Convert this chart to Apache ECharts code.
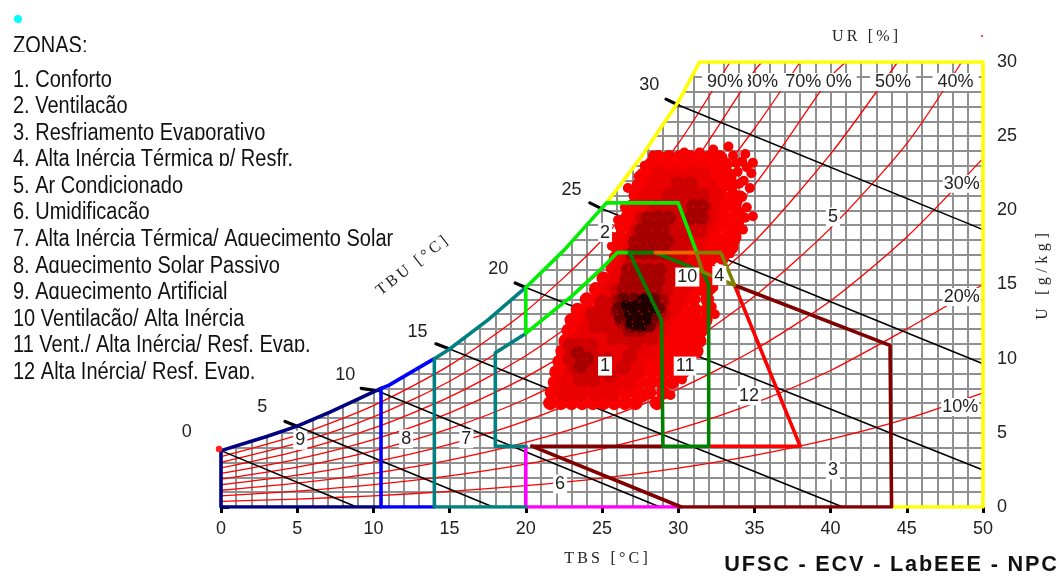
<!DOCTYPE html>
<html><head><meta charset="utf-8">
<style>html,body{margin:0;padding:0;background:#fff}#c{width:1060px;height:576px}</style>
<script src="https://cdn.jsdelivr.net/npm/echarts@6/dist/echarts.min.js"></script>
</head><body><div id="c"></div>
<script>
// ---------- text ----------
const zoneTitle = "ZONAS:";
const zoneNames = ["1. Conforto","2. Ventilação","3. Resfriamento Evaporativo","4. Alta Inércia Térmica p/ Resfr.","5. Ar Condicionado","6. Umidificação","7. Alta Inércia Térmica/ Aquecimento Solar","8. Aquecimento Solar Passivo","9. Aquecimento Artificial","10 Ventilação/ Alta Inércia","11 Vent./ Alta Inércia/ Resf. Evap.","12 Alta Inércia/ Resf. Evap."];
const footer = "UFSC - ECV - LabEEE - NPC";
// ---------- saturation + relative humidity curves [TBS, U] ----------
const saturation = [[0,3.8],[3,4.75],[5,5.45],[7.15,6.4],[10.5,8],[11,8.2],[14,10],[15,10.65],[17.5,12.6],[20,14.8],[22.5,17.3],[25.3,20.5],[27.5,23.5],[30,27.3],[31.4,30]];
const maskEdge = [[31.4,30.4],[-0.4,30.4],[-0.4,3.8]];
const rh90 = [[0,3.39],[5,4.84],[10,6.84],[15,9.55],[20,13.2],[25,18],[30,24.5],[33.4,30]];
const rh80 = [[0,3.01],[5,4.3],[10,6.07],[15,8.48],[20,11.7],[25,16],[30,21.7],[35,29.4],[35.5,30]];
const rh70 = [[0,2.63],[5,3.77],[10,5.31],[15,7.42],[20,10.2],[25,13.9],[30,18.9],[35,25.5],[38,30]];
const rh60 = [[0,2.26],[5,3.23],[10,4.55],[15,6.35],[20,8.76],[25,11.9],[30,16.1],[35,21.7],[40,29],[41,30]];
const rh50 = [[0,1.88],[5,2.69],[10,3.79],[15,5.28],[20,7.28],[25,9.9],[30,13.4],[35,17.9],[40,23.8],[44.4,30]];
const rh40 = [[0,1.5],[5,2.15],[10,3.03],[15,4.22],[20,5.81],[25,7.9],[30,10.6],[35,14.2],[40,18.8],[45,24.5],[48.6,30]];
const rh30 = [[0,1.13],[5,1.61],[10,2.27],[15,3.16],[20,4.35],[25,5.9],[30,7.95],[35,10.6],[40,13.9],[45,18.2],[50,23.5]];
const rh20 = [[0,.75],[5,1.07],[10,1.51],[15,2.1],[20,2.89],[25,3.92],[30,5.26],[35,7],[40,9.2],[45,12],[50,15]];
const rh10 = [[0,.375],[5,.536],[10,.755],[15,1.05],[20,1.44],[25,1.95],[30,2.62],[35,3.48],[40,4.57],[45,5.95],[50,7.7]];
// ---------- wet-bulb lines ----------
const tbu0  = [[0,3.8],[8.9,0]];
const tbu5  = [[5,5.45],[17.85,0]];
const tbu10 = [[10.2,7.85],[28.8,0]];
const tbu15 = [[15,10.65],[40.8,0]];
const tbu20 = [[20,14.8],[50,2.5]];
const tbu25 = [[25,20.1],[50,9.65]];
const tbu30 = [[30,27.1],[50,18.7]];
const tbuTicks = [[[-.7,4.15],[0,3.8]],[[4.2,5.77],[5,5.45]],[[9.2,8],[10.2,7.85]],[[14.1,11],[15,10.65]],[[19.3,15.1],[20,14.8]],[[24.2,20.5],[25,20.1]],[[29.2,27.5],[30,27.1]]];
// ---------- zone outlines ----------
const zoneNavy = [[10.5,0],[0,0],[0,3.8],[3,4.75],[5,5.45],[7.15,6.4],[10.5,8]];
const zoneBlue = [[14,0],[10.5,0],[10.5,8],[11,8.2],[14,10]];
const zoneTeal = [[20,0],[14,0],[14,10],[15,10.65],[17.5,12.6],[20,14.8]];
const zoneTeal2 = [[20,11.7],[18,10.4],[18,4.1],[20,4.1]];
const zoneMagenta = [[30.2,0],[20,0],[20,4.1]];
const zoneYellow = [[44,0],[50,0],[50,30],[31.4,30],[30,27.3],[27.5,23.5],[25.3,20.5]];
const zoneLime = [[26.8,17.15],[26,17.15],[25.2,16.3],[23,14.2],[21.3,12.8],[20,11.7],[20,14.8],[22.5,17.3],[25.3,20.5],[30,20.5],[31.2,17.2]];
const zoneOrange = [[28.5,17.15],[31.2,17.15]];
const zoneOlive = [[31.2,17.15],[32.8,17.15],[33.7,14.95],[31.6,15.85],[31.2,17.15]];
const zoneGreen = [[26.8,17.15],[28.9,12.6],[29,4.1],[32,4.1],[32,15],[31.6,15.85],[28.5,17.15],[26.8,17.15]];
const zoneMaroon = [[33.7,14.95],[43.9,10.9],[44,0],[30.2,0],[20.4,4.1]];
const zoneMaroon2 = [[20.4,4.1],[29,4.1]];
const zoneRed = [[32,4.1],[38,4.1],[33.7,14.95]];
// ---------- labels on the chart [text, TBS, U] ----------
const zoneLabels = [["1",25.2,9.5],["2",25.2,18.5],["3",40.15,2.5],["4",32.7,15.6],["5",40.15,19.55],["6",22.25,1.55],["7",16.1,4.6],["8",12.15,4.6],["9",5.2,4.5],["10",30.6,15.5],["11",30.45,9.5],["12",34.65,7.5]];
const rhSideLabels = [["10%",48.5,6.75],["20%",48.6,14.15],["30%",48.6,21.8]];
const rhTopLabels = [["40%",48.2,28.65],["50%",44.1,28.65],["60%",40.2,28.65],["70%",38.2,28.65],["80%",35.37,28.65],["90%",33.07,28.65]];
const tbuLabels = [["0",-2.25,5.05],["5",2.7,6.75],["10",8.15,8.9],["15",12.9,11.8],["20",18.2,16.05],["25",23,21.4],["30",28.1,28.45]];
// ---------- climate records, [U, [TBS...]] ----------
const cloudBase = [
[7,[21.6,22.3,23,23.7,24.4,25.1,25.8,26.5,27.2,28.6]],
[7.7,[21.7,22.4,23.1,23.8,24.5,25.2,25.9,26.6,27.3,28.1,29]],
[8.4,[21.9,22.6,23.3,24,24.7,25.4,26.1,26.8,27.5,28.2,28.9,29.6]],
[9.1,[22,22.7,23.4,24.1,24.8,25.5,26.2,26.9,27.6,28.3,29,29.7,30.3]],
[9.8,[22.2,22.9,23.6,24.3,25,25.7,26.4,27.1,27.8,28.5,29.2,29.9,30.6]],
[10.5,[22.4,23.1,23.8,24.5,25.2,25.9,26.6,27.3,28,28.7,29.4,30.1,30.7,31.2]],
[11.2,[22.6,23.3,24,24.7,25.4,26.1,26.8,27.5,28.2,28.9,29.6,30.3,31,31.4]],
[11.9,[22.8,23.5,24.2,24.9,25.6,26.3,27,27.7,28.4,29.1,29.8,30.5,31.2,31.5]],
[12.6,[23,23.7,24.4,25.1,25.8,26.5,27.2,27.9,28.6,29.3,30,30.7,31.3,31.8]],
[13.3,[23.4,24.1,24.8,25.5,26.2,26.9,27.6,28.3,29,29.7,30.4,31.1,31.9]],
[14,[24,24.7,25.4,26.1,26.8,27.5,28.2,28.9,29.6,30.3,31,31.9]],
[14.7,[24.6,25.3,26,26.7,27.4,28.1,28.8,29.5,30.2,30.9,31.5,32]],
[15.4,[25.1,25.8,26.5,27.2,27.9,28.6,29.3,30,30.7,31.4,31.9]],
[16.1,[25.7,26.4,27.1,27.8,28.5,29.2,29.9,30.6,31.3,32]],
[16.8,[25.9,26.6,27.3,28,28.7,29.4,30.1,30.8,31.5,32.2,32.9]],
[17.5,[26,26.7,27.4,28.1,28.8,29.5,30.2,30.9,31.6,32.3,33,33.5]],
[18.2,[26.2,26.9,27.6,28.3,29,29.7,30.4,31.1,31.8,32.5,33.2,33.7]],
[18.9,[26.3,27,27.7,28.4,29.1,29.8,30.5,31.2,31.9,32.6,33.3,33.8]],
[19.6,[26.7,27.4,28.1,28.8,29.5,30.2,30.9,31.6,32.3,33,33.8]],
[20.3,[27,27.7,28.4,29.1,29.8,30.5,31.2,31.9,32.6,33.2,33.7]],
[21,[27.2,27.9,28.6,29.3,30,30.7,31.4,32.1,32.8,33.6]],
[21.7,[27.4,28.1,28.8,29.5,30.2,30.9,31.6,32.3,33,33.5]],
[22.4,[27.7,28.4,29.1,29.8,30.5,31.2,31.9,32.6,33.3]],
[23.1,[28.2,28.9,29.6,30.3,31,31.7,32.4,33.1]],
[23.6,[28.7,29.4,30.1,30.8,31.5,32.1,32.7]]];
const cloudFringe = [[28.35,23.7],[28.7,23.6],[29.4,23.6],[30.4,23.9],[31.4,23.9],[32.3,24.1],[33.3,24.3],[34.4,23.8],[32.9,23.6],[34.2,23.3],[34.9,23.2],[34.5,22.9],[34.8,22.5],[33.9,22.6],[33.5,22.2],[34.7,21.5],[34.5,20.2],[34.9,19.6],[34.4,19.5],[34.25,18.7],[33.9,18.9],[33.4,17.1],[26.7,21.5],[26.5,20.2],[26.05,19.35],[25.7,18.2],[25.65,17.6],[27.4,22.3],[27.8,23],[32.3,14.8],[32.2,13.5],[31.4,11.1],[30.25,8.6],[29.5,7.55],[27.7,7.4],[33.8,23.2],[33.6,23.7],[34,21.8],[34.3,22],[34.1,21],[33.9,20.6],[34.2,20.9],[33.9,20],[34.1,19.8],[34,19.2],[33.7,17.9],[33.4,17.6],[33.6,18.4],[30.9,10.2],[31.6,12.2],[32.4,13],[30.7,9.2]];
const cloudShade1 = [
[7.7,[22.6,23.6,24.6,25.6]],[8.4,[22.7,23.7,24.7,25.7,26.7]],[9.1,[23,24,25,26,27.2]],[9.8,[23.2,24.2,25.2,26.2,27.2]],
[10.5,[23.2,24.2,25.2,26.2,27.2,28.2]],[11.2,[23.5,24.5,25.5,26.5,27.5,28.5]],[11.9,[23.9,24.9,25.9,26.9,27.9,28.9]],
[12.6,[24.2,25.2,26.2,27.2,28.2,29.2]],[13.3,[24.9,25.9,26.9,27.9,28.9,29.7]],[14,[25.2,26.2,27.2,28.2,29.2,30]],
[14.7,[25.6,26.6,27.6,28.6,29.6,30.4]],[15.4,[26,27,28,29,30,30.7]],[16.1,[26.4,27.4,28.4,29.4,30.4,30.9]],[16.8,[26.7,27.7,28.7,29.7,30.7,31]],
[17.5,[26.9,27.9,28.9,29.9,30.9,31.2]],[18.2,[27.1,28.1,29.1,30.1,31.1,31.5]],[18.9,[27.3,28.3,29.3,30.3,31.3,31.9]],[19.6,[27.6,28.6,29.6,30.6,31.6,32.2]],
[20.3,[27.9,28.9,29.9,30.9,31.9,32.2]],[21,[28,29,30,31,32,32.4]],[21.7,[28.4,29.4,30.4,31.4,32]],[22.4,[28.8,29.8,30.8,31.6]]];
const cloudShade2 = [
[8.6,[23.6,24.4]],[8.9,[25.5]],[9.3,[23.3,24.1,24.8]],[9.4,[26.4]],[10,[22.9,23.7,24.5,25.3]],[10.2,[26.8]],[10.9,[22.9,23.6,24.3]],[11,[27.2]],
[11.4,[25.8,26.6,27.4,28.2]],[12.2,[24.6,25.4,26.2,27,27.8,28.6]],[13,[24.4,25.2,26,26.8,27.6,28.4,29]],[13.8,[25,25.8,26.6,27.4,28.2,29]],
[14.6,[26,26.8,27.6,28.4,29.2]],[15.4,[26.6,27.4,28.2,29,29.8]],[16.2,[26.8,27.6,28.4,29.2,30]],[17,[27,27.8,28.6,29.4,30.2]],
[17.8,[27.2,28,28.8,29.6,30.4]],[18.6,[27.4,28.2,29,29.8,30.6,31.4]],[19.4,[27.7,28.5,29.3,30.1,30.9,31.7]],[20.2,[28.6,29.4,30.2,31,31.7]],[21,[29.4,30.2,31,31.6]],[21.8,[30,30.8]]];
const cloudShade3 = [
[9.5,[23.6]],[10,[24]],[10.4,[23.4]],[11.9,[26.8,27.5]],[12.5,[26.3,27,27.7,28.4]],[13.2,[26,26.7,27.4,28.1,28.8]],[13.9,[26.1,26.8,27.5,28.2,28.9]],[14.6,[26.4,27.1,27.8,28.5]],
[15.3,[26.6,27.3,28,28.7]],[16,[26.7,27.4,28.1,28.8]],[17.1,[27,27.7,28.4,29.1]],[17.9,[27.2,27.9,28.6,29.3]],[18.7,[27.6,28.3,29]],[19.5,[28,28.7,29.4,30.8,31.5]],[20.3,[31,31.6]]];
const cloudShade4 = [[12.2,[26.9,27.5,28.1]],[12.8,[26.2,26.9,27.6,28.3]],[13.4,[26.1,26.8,27.5,28.2,28.7]],[14,[26.4,27.1,27.8,28.4]]];
const cloudShade5 = [[12.2,[27.6]],[12.3,[27.2]],[12.4,[26.9]],[12.6,[27.9]],[12.8,[27.5]],[13,[26.8]],[13.2,[27,28.2]],[13.3,[27.8]],[13.6,[26.6,27.3]],[13.8,[28.1]],[14,[27.7]]];
// ---------- axis ticks ----------
const xMin = 0, xMax = 50, xStep = 5, yMin = 0, yMax = 30, yStep = 5;

const sp = s => String(s).split('').join('\u2009');
const hs = s => String(s).split('').join('\u200A');
const sw = s => String(s).split('').join('\u2009\u200A');
const expand = rows => rows.flatMap(r => r[1].map(t => [t, r[0]]));
const line = (data, color, width, z, extra) => Object.assign({type:'line',data,smooth:false,showSymbol:false,silent:true,z,animation:false,
  lineStyle:{color,width,cap:'round',join:'round'}},extra||{});
const dots = (data,color,size,z) => ({type:'scatter',data,symbolSize:size,z,silent:true,animation:false,itemStyle:{color,opacity:1},large:false});
const labelled = (rows,style,z) => ({type:'scatter',data:rows.map(r=>({value:[r[1],r[2]],name:r[0]})),symbolSize:0,z,silent:true,animation:false,clip:false,itemStyle:{opacity:1},
  label:Object.assign({show:true,opacity:1,position:'inside',formatter:p=>p.name,fontFamily:'Liberation Sans',fontSize:18,color:'#222'},style)});

const series = [
 {type:'custom',z:1,silent:true,animation:false,clip:false,data:[[0,0]],renderItem:(p,api)=>({type:'polygon',
   shape:{points:saturation.concat(maskEdge).map(q=>api.coord(q))},style:{fill:'#fff',stroke:null}})},
 ...[rh10,rh20,rh30,rh40,rh50,rh60,rh70,rh80,rh90].map(d=>line(d,'#ff0000',1.3,3,{smooth:0.25})),
 ...[tbu0,tbu5,tbu10,tbu15,tbu20,tbu25,tbu30].map(d=>line(d,'#000',1.6,4)),
 ...tbuTicks.map(d=>line(d,'#000',3.2,4)),
 dots(cloudFringe,'#f80000',10,5),
 dots(expand(cloudBase),'#f80000',14,5),
 dots(expand(cloudShade1),'#ea0000',17,6),
 dots(expand(cloudShade2),'#cf0000',15,7),
 dots(expand(cloudShade3),'#a40000',14,8),
 dots(expand(cloudShade4),'#6c0000',13,9),
 dots(expand(cloudShade5),'#200000',11,10),
 dots(expand(cloudShade3).concat(expand(cloudShade2)),'#e80000',1.6,11),
 line(zoneMagenta,'#ff00ff',3.6,12),
 line(zoneYellow,'#ffff00',3.6,12),
 line(zoneNavy,'#000080',3.6,13),
 line(zoneBlue,'#0000ff',3.6,13),
 line(zoneTeal,'#008080',3.6,13),
 line(zoneTeal2,'#008080',3.6,13),
 line(zoneLime,'#00ee00',3.6,13),
 line(zoneRed,'#ff0000',3.6,13),
 line(zoneMaroon,'#800000',3.6,14),
 line(zoneMaroon2,'#800000',3.6,14),
 line(zoneGreen,'#008000',3.6,15),
 line(zoneOrange,'#e86800',3.6,15),
 line(zoneOlive,'#808000',3.6,15),
 labelled(rhSideLabels,{backgroundColor:'#fff',padding:[0,1,0,1]},20),
 labelled(rhTopLabels,{backgroundColor:'#fff',padding:[0,5,0,5]},20),
 labelled(zoneLabels,{backgroundColor:'#fff',padding:[1,2,0,2]},21),
 labelled(tbuLabels,{},21)
];

const graphic = [];
const cuts = [400,400,400,400,400,400,400,400,400,400,312,258];
const G = 60;
graphic.push({type:'text',z:G,x:13,y:35,scaleY:1.15,style:{text:zoneTitle,font:'20px "Liberation Sans"',fill:'#111'}});
graphic.push({type:'rect',z:G,shape:{x:0,y:52,width:120,height:8},style:{fill:'#fff'}});
zoneNames.forEach((t,i)=>{
  const cut = Math.round(86.7 + 26.55*i);
  graphic.push({type:'text',z:G,x:13,y:cut-18,scaleY:1.15,style:{text:t,font:'20px "Liberation Sans"',fill:'#111'}});
  graphic.push({type:'rect',z:G,shape:{x:0,y:cut,width:cuts[i],height:8},style:{fill:'#fff'}});
});
graphic.push({type:'text',z:G,x:412,y:266,rotation:38*Math.PI/180,style:{text:sp('TBU [°C]'),font:'16px "Liberation Serif"',fill:'#222',align:'center',verticalAlign:'middle'}});
graphic.push({type:'text',z:G,x:865,y:37,style:{text:sp('UR [%]'),font:'16px "Liberation Serif"',fill:'#222',align:'center',verticalAlign:'middle'}});
graphic.push({type:'text',z:G,x:1057,y:565,style:{text:hs(footer),font:'bold 21.7px "Liberation Sans"',fill:'#111',align:'right',verticalAlign:'middle'}});
graphic.push({type:'circle',z:G,shape:{cx:18,cy:19,r:4},style:{fill:'#00ffff'}});
graphic.push({type:'circle',z:G,shape:{cx:982,cy:36,r:1},style:{fill:'#ff0000'}});
graphic.push({type:'circle',z:G,shape:{cx:219,cy:449,r:3.2},style:{fill:'#ff2020'}});

const chart = echarts.init(document.getElementById('c'),null,{renderer:'canvas'});
chart.setOption({
 animation:false,backgroundColor:'#fff',
 grid:{left:221,right:77,top:62,bottom:69,containLabel:false},
 xAxis:{type:'value',min:xMin,max:xMax,interval:xStep,name:sp('TBS [°C]'),nameLocation:'middle',nameGap:44,
   nameTextStyle:{fontFamily:'Liberation Serif',fontSize:16,color:'#222',padding:[0,0,0,8]},
   axisLine:{show:false},axisTick:{show:true,length:6,lineStyle:{color:'#000',width:3}},minorTick:{show:false,splitNumber:5},
   axisLabel:{fontFamily:'Liberation Sans',fontSize:18,color:'#222',margin:13,showMinLabel:true,showMaxLabel:true},
   splitLine:{show:true,lineStyle:{color:'#909090',width:2}},minorSplitLine:{show:true,lineStyle:{color:'#909090',width:2}}},
 yAxis:{type:'value',position:'right',min:yMin,max:yMax,interval:yStep,name:sw('U [g/kg]'),nameLocation:'middle',nameGap:52,nameRotate:90,
   nameTextStyle:{fontFamily:'Liberation Serif',fontSize:16,color:'#222',padding:[0,0,18,16]},
   axisLine:{show:false},axisTick:{show:true,length:8,lineStyle:{color:'#000',width:3}},minorTick:{show:false,splitNumber:5},
   axisLabel:{fontFamily:'Liberation Sans',fontSize:18,color:'#222',margin:14,showMinLabel:true,showMaxLabel:true},
   splitLine:{show:true,lineStyle:{color:'#909090',width:2}},minorSplitLine:{show:true,lineStyle:{color:'#909090',width:2}}},
 graphic,
 series
});
</script></body></html>
